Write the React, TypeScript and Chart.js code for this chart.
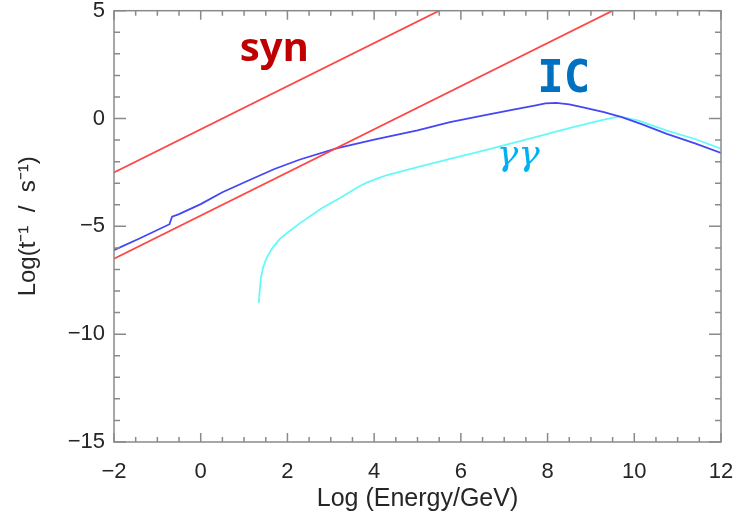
import React, { useEffect, useRef } from "react";
import { Chart, registerables } from "chart.js";

Chart.register(...registerables);

// Synchrotron cooling rate (upper red line)
const synX = [-2, 5.5];
const synY = [-2.5, 5];
// Second red line (lower)
const red2X = [-2, 9.5];
const red2Y = [-6.5, 5];
// Inverse Compton (blue)
const icX = [-2, -1.4, -0.72, -0.69, -0.66, -0.5, 0, 0.5, 1.14, 1.7, 2.29, 3.13, 4, 5, 5.75, 6.5, 7.3, 7.7, 7.95, 8.2, 8.5, 8.82, 9.3, 9.71, 10.2, 10.75, 11.4, 12];
const icY = [-6.1, -5.55, -4.9, -4.72, -4.55, -4.43, -3.97, -3.42, -2.84, -2.34, -1.9, -1.38, -0.98, -0.55, -0.17, 0.13, 0.45, 0.6, 0.7, 0.73, 0.66, 0.52, 0.3, 0.06, -0.28, -0.71, -1.15, -1.6];
// gamma-gamma (cyan)
const ggX = [1.34, 1.36, 1.39, 1.44, 1.5, 1.58, 1.67, 1.83, 2.0, 2.29, 2.8, 3.2, 3.44, 3.65, 3.83, 4.05, 4.3, 5.0, 5.75, 6.5, 7.5, 8.5, 9.2, 9.65, 10.1, 10.75, 11.4, 12];
const ggY = [-8.55, -8.0, -7.35, -6.9, -6.57, -6.25, -5.96, -5.57, -5.3, -4.85, -4.15, -3.7, -3.41, -3.15, -2.97, -2.8, -2.62, -2.25, -1.87, -1.5, -0.98, -0.45, -0.1, 0.1, -0.1, -0.56, -0.95, -1.4];

const xMin = -2, xMax = 12, xStep = 2, xMinor = 0.5;
const yMin = -15, yMax = 5, yStep = 5, yMinor = 1;

const labels = [
  { text: "syn", x: 0.9, y: 2.67, color: "#c00000", font: "bold 40px 'Noto Sans'" },
  { text: "IC", x: 7.76, y: 1.25, color: "#0070c0", font: "bold 44px 'DejaVu Sans Mono'" },
  { text: "γγ", x: 6.83, y: -2.14, color: "#00b0f0", font: "italic 36px 'DejaVu Serif'" },
];

const pts = (xs: number[], ys: number[]) => xs.map((x, i) => ({ x, y: ys[i] }));

const fmt = (v: number) => (v < 0 ? "\u2212" + Math.abs(v) : String(v));

const framePlugin = {
  id: "frame",
  afterDatasetsDraw(chart: any) {
    const { ctx, chartArea, scales } = chart;
    const { left, right, top, bottom } = chartArea;
    const x = scales.x, y = scales.y;
    ctx.save();
    for (const l of labels) {
      ctx.font = l.font;
      ctx.fillStyle = l.color;
      ctx.textAlign = "left";
      ctx.textBaseline = "alphabetic";
      ctx.fillText(l.text, x.getPixelForValue(l.x), y.getPixelForValue(l.y));
    }
    ctx.strokeStyle = "#8a8a8a";
    ctx.lineWidth = 1.5;
    ctx.strokeRect(left, top, right - left, bottom - top);
    ctx.beginPath();
    for (let v = xMin; v <= xMax + 1e-9; v += xMinor) {
      const px = x.getPixelForValue(v);
      const major = Math.abs(v % xStep) < 1e-9;
      const len = major ? 9 : 5;
      ctx.moveTo(px, bottom);
      ctx.lineTo(px, bottom - len);
      ctx.moveTo(px, top);
      ctx.lineTo(px, top + len);
    }
    for (let v = yMin; v <= yMax + 1e-9; v += yMinor) {
      const py = y.getPixelForValue(v);
      const major = Math.abs(v % yStep) < 1e-9;
      const len = major ? 12 : 6;
      ctx.moveTo(left, py);
      ctx.lineTo(left + len, py);
      ctx.moveTo(right, py);
      ctx.lineTo(right - len, py);
    }
    ctx.stroke();
    ctx.restore();
  },
};

export default function App() {
  const ref = useRef<HTMLCanvasElement>(null);
  useEffect(() => {
    const common = { showLine: true, pointRadius: 0, borderWidth: 1.8, tension: 0, fill: false };
    const chart = new Chart(ref.current!, {
      type: "scatter",
      data: {
        datasets: [
          { ...common, label: "syn", data: pts(synX, synY), borderColor: "rgb(255,70,70)" },
          { ...common, label: "red2", data: pts(red2X, red2Y), borderColor: "rgb(255,70,70)" },
          { ...common, label: "IC", data: pts(icX, icY), borderColor: "rgb(70,70,245)" },
          { ...common, label: "gg", data: pts(ggX, ggY), borderColor: "rgb(100,250,250)" },
        ],
      },
      options: {
        animation: false,
        responsive: true,
        maintainAspectRatio: false,
        layout: { padding: { top: 10.7, right: 14, left: 0, bottom: 0 } },
        plugins: { legend: { display: false }, tooltip: { enabled: false } },
        scales: {
          x: {
            type: "linear",
            min: xMin,
            max: xMax,
            grid: { display: false, drawTicks: false },
            border: { display: false },
            ticks: {
              stepSize: xStep,
              padding: 17,
              color: "#262626",
              font: { family: "'Liberation Sans'", size: 22 },
              callback: (v: any) => fmt(Number(v)),
              maxRotation: 0,
            },
            title: {
              display: true,
              text: "Log (Energy/GeV)",
              color: "#262626",
              font: { family: "'Liberation Sans'", size: 25 },
              padding: { top: 0, bottom: 1 },
            },
            afterFit: (s: any) => {
              s.height = 73;
              s.paddingLeft = 0;
              s.paddingRight = 0;
            },
          },
          y: {
            type: "linear",
            min: yMin,
            max: yMax,
            grid: { display: false, drawTicks: false },
            border: { display: false },
            ticks: {
              stepSize: yStep,
              padding: 9,
              color: "#262626",
              font: { family: "'Liberation Sans'", size: 22 },
              callback: (v: any) => fmt(Number(v)),
            },
            title: {
              display: true,
              text: "Log(t\u207B\u00B9  /  s\u207B\u00B9)",
              color: "#262626",
              font: { family: "'Liberation Sans'", size: 24 },
              padding: { top: 14, bottom: 0 },
            },
            afterFit: (s: any) => {
              s.width = 114;
              s.paddingTop = 0;
              s.paddingBottom = 0;
            },
          },
        },
      },
      plugins: [framePlugin],
    } as any);
    return () => chart.destroy();
  }, []);
  return (
    <div style={{ position: "fixed", left: 0, top: 0, width: 735, height: 515, background: "#fff" }}>
      <canvas ref={ref} />
    </div>
  );
}
